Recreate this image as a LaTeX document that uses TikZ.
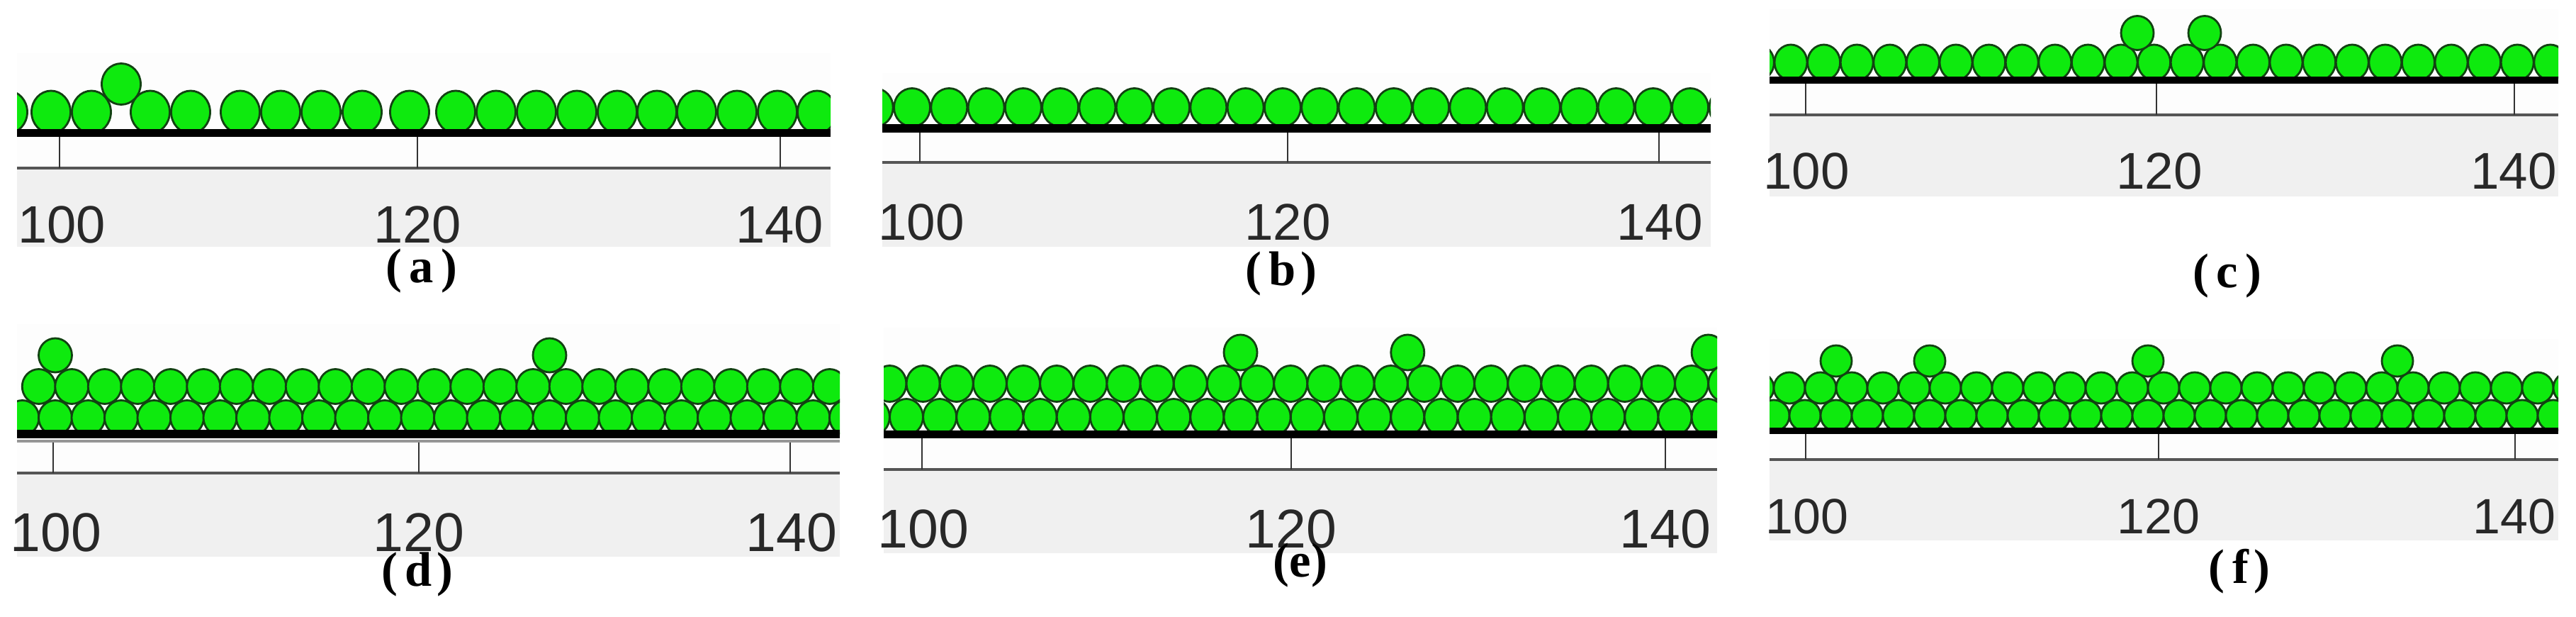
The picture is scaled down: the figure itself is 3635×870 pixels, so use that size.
\documentclass[tikz,border=0pt]{standalone}
\usepackage{fontspec}
\setmainfont{Liberation Serif}
\newfontfamily\axisfont{Liberation Sans}
\definecolor{ballgreen}{RGB}{14,234,14}
\definecolor{balledge}{RGB}{18,66,18}
\definecolor{panelgray}{RGB}{240,240,240}
\definecolor{panelwhite}{RGB}{253,253,253}
\definecolor{axisgray}{RGB}{85,85,85}
\definecolor{ticklab}{RGB}{40,40,40}
\definecolor{lightline}{RGB}{150,150,150}
\tikzset{
  ball/.style={fill=ballgreen,draw=balledge,line width=0.8pt},
  groundline/.style={fill=black},
  axisline/.style={draw=axisgray,line width=0.9pt},
  tickmark/.style={draw=black!80,line width=0.6pt},
  ticklabel/.style={anchor=base,inner sep=0pt,text depth=0pt,text=ticklab,font=\axisfont\fontsize{#1}{#1}\selectfont},
  figlabel/.style={inner sep=0pt,text height=1.3ex,text depth=0.25ex,font=\fontsize{19.5pt}{20pt}\selectfont\bfseries}
}
\begin{document}
\begin{tikzpicture}[x=0.01cm,y=-0.01cm]
\fill[white] (0,0) rectangle (3635,870);
\useasboundingbox (0,0) rectangle (3635,870);

% ================= panel (a) =================
\fill[panelwhite] (24,75) rectangle (1172,237);
\fill[panelgray] (24,237) rectangle (1172,348);
\begin{scope}
\clip (24,75) rectangle (1172,237);
\foreach \x in {11,72,129,212,269,339,396,453,511,578,643,700,757,814,871,927,983,1040,1097,1153}
  \draw[ball] (\x,158) circle[x radius=27.5,y radius=30];
\draw[ball] (171,118.5) circle[x radius=27.5,y radius=29];
\end{scope}
\fill[groundline] (24,182) rectangle (1172,193);
\draw[axisline] (24,237) -- (1172,237);
\foreach \x in {84,589,1101} \draw[tickmark] (\x,193) -- (\x,237);
\node[ticklabel=21.1pt] (a100) at (87,343) {100};
\node[ticklabel=21.1pt] (a120) at (589,343) {120};
\node[ticklabel=21.1pt] (a140) at (1100,343) {140};
\node[figlabel] (la) at (595,390) {(\kern3pt a\kern3pt)};

% ================= panel (b) =================
\fill[panelwhite] (1245,103) rectangle (2414,229);
\fill[panelgray] (1245,229) rectangle (2414,348);
\begin{scope}
\clip (1245,103) rectangle (2414,229);
\foreach \i in {-1,...,22}
  \draw[ball] ({1287+52.29*\i},151.5) circle[x radius=25.5,y radius=27];
\end{scope}
\fill[groundline] (1245,175) rectangle (2414,187);
\draw[axisline] (1245,229) -- (2414,229);
\foreach \x in {1298,1817,2341} \draw[tickmark] (\x,187) -- (\x,229);
\node[ticklabel=20.7pt] (b100) at (1300,339) {100};
\node[ticklabel=20.7pt] (b120) at (1817,339) {120};
\node[ticklabel=20.7pt] (b140) at (2342,339) {140};
\node[figlabel] (lb) at (1808,394) {(\kern3pt b\kern2pt)};

% ================= panel (c) =================
\fill[panelwhite] (2497,13) rectangle (3610,162);
\fill[panelgray] (2497,162) rectangle (3610,277);
\begin{scope}
\clip (2497,13) rectangle (3610,162);
\foreach \i in {-1,...,23}
  \draw[ball] ({2527+46.6*\i},88) circle[x radius=23,y radius=25];
\draw[ball] (3016,46.5) circle[x radius=23,y radius=24];
\draw[ball] (3111,46.5) circle[x radius=23,y radius=24];
\end{scope}
\fill[groundline] (2497,108) rectangle (3610,118);
\draw[axisline] (2497,162) -- (3610,162);
\foreach \x in {2548,3043,3548} \draw[tickmark] (\x,118) -- (\x,162);
\node[ticklabel=20.7pt] (c100) at (2549,267) {100};
\node[ticklabel=20.7pt] (c120) at (3047,267) {120};
\node[ticklabel=20.7pt] (c140) at (3547,267) {140};
\node[figlabel] (lc) at (3143,397) {(\kern3pt c\kern3pt)};

% ================= panel (d) =================
\fill[panelwhite] (24,457) rectangle (1185,667);
\fill[panelgray] (24,667) rectangle (1185,785);
\begin{scope}
\clip (24,457) rectangle (1185,667);
\foreach \i in {-1,...,24}
  \draw[ball] ({78+46.5*\i},589) circle[x radius=23.5,y radius=24.5];
\foreach \k in {-1,...,24}
  \draw[ball] ({78+46.5*(\k+0.5)},545) circle[x radius=23.5,y radius=24.5];
\draw[ball] (78,501) circle[x radius=23.5,y radius=24];
\draw[ball] (775.5,501) circle[x radius=23.5,y radius=24];
\end{scope}
\fill[groundline] (24,606) rectangle (1185,618);
\draw[draw=lightline,line width=0.9pt] (24,622) -- (1185,622);
\draw[axisline] (24,667) -- (1185,667);
\foreach \x in {75,591,1115} \draw[tickmark] (\x,624) -- (\x,667);
\node[ticklabel=21.9pt] (d100) at (79,777) {100};
\node[ticklabel=21.9pt] (d120) at (591,777) {120};
\node[ticklabel=21.9pt] (d140) at (1117,777) {140};
\node[figlabel] (ld) at (589,818) {(\kern3pt d\kern2pt)};

% ================= panel (e) =================
\fill[panelwhite] (1247,462) rectangle (2423,662);
\fill[panelgray] (1247,662) rectangle (2423,780);
\begin{scope}
\clip (1247,462) rectangle (2423,662);
\foreach \i in {-1,...,24}
  \draw[ball] ({1279+47.15*\i},588) circle[x radius=23.5,y radius=25.5];
\foreach \k in {-1,...,24}
  \draw[ball] ({1279+47.15*(\k+0.5)},541) circle[x radius=23.5,y radius=25.5];
\foreach \i in {10,15,24}
  \draw[ball] ({1279+47.15*\i},497) circle[x radius=23.5,y radius=25];
\end{scope}
\fill[groundline] (1247,607) rectangle (2423,618);
\draw[axisline] (1247,662) -- (2423,662);
\foreach \x in {1301,1822,2350} \draw[tickmark] (\x,618) -- (\x,662);
\node[ticklabel=21.9pt] (e100) at (1303,772) {100};
\node[ticklabel=21.9pt] (e120) at (1822,772) {120};
\node[ticklabel=21.9pt] (e140) at (2350,772) {140};
\node[figlabel] (le) at (1835,805) {(e)};

% ================= panel (f) =================
\fill[panelwhite] (2497,478) rectangle (3610,648);
\fill[panelgray] (2497,648) rectangle (3610,762);
\begin{scope}
\clip (2497,478) rectangle (3610,648);
\foreach \i in {-2,...,24}
  \draw[ball] ({2547+44*\i},586) circle[x radius=22,y radius=22];
\foreach \k in {-2,...,24}
  \draw[ball] ({2547+44*(\k+0.5)},547) circle[x radius=22,y radius=22];
\foreach \i in {1,4,11,19}
  \draw[ball] ({2547+44*\i},509) circle[x radius=22,y radius=22];
\end{scope}
\fill[groundline] (2497,603) rectangle (3610,612);
\draw[axisline] (2497,648) -- (3610,648);
\foreach \x in {2548,3046,3549} \draw[tickmark] (\x,612) -- (\x,648);
\node[ticklabel=19.9pt] (f100) at (2550,752) {100};
\node[ticklabel=19.9pt] (f120) at (3046,752) {120};
\node[ticklabel=19.9pt] (f140) at (3548,752) {140};
\node[figlabel] (lf) at (3160,814) {(\kern3pt f\kern2pt)};
\end{tikzpicture}
\end{document}
